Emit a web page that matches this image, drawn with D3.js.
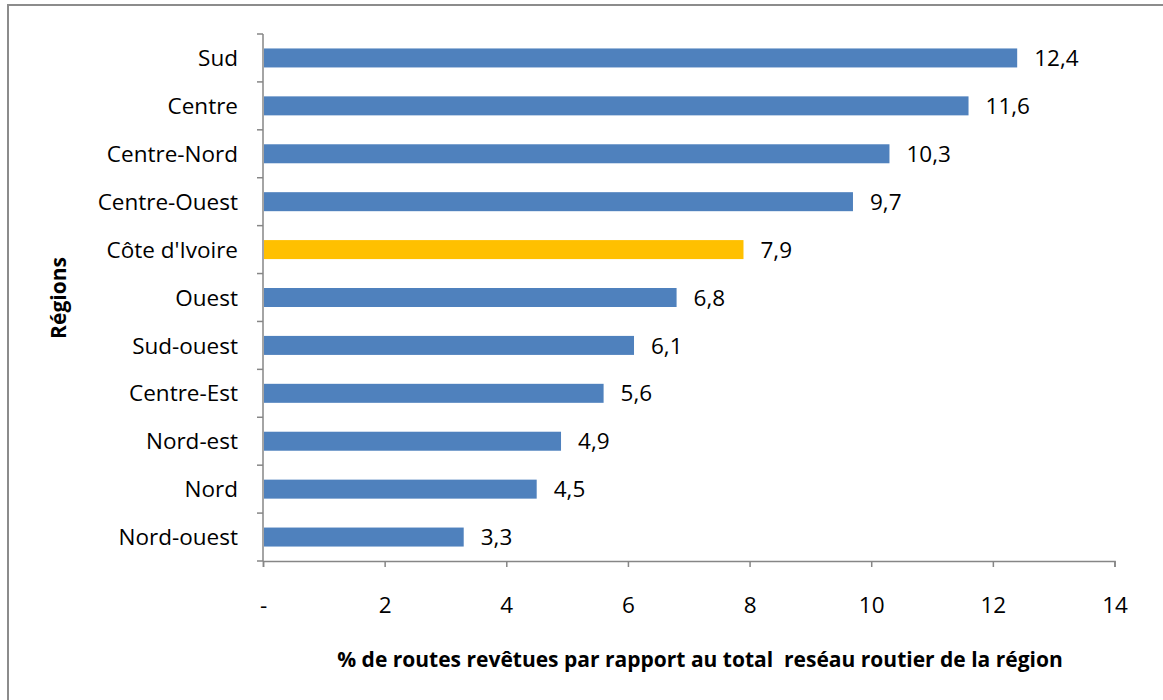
<!doctype html>
<html>
  <head>
    <script src="https://cdnjs.cloudflare.com/ajax/libs/d3/7.8.5/d3.min.js"></script>
    <style>
      body { margin: 0; background: #fff; }
      svg { display: block; font-family: "Open Sans", sans-serif; }
    </style>
  </head>
  <body>
    <svg width="1163" height="700"></svg>
    <script>
      // regions, top to bottom
      var regions = ["Sud", "Centre", "Centre-Nord", "Centre-Ouest", "Côte d'Ivoire", "Ouest",
                     "Sud-ouest", "Centre-Est", "Nord-est", "Nord", "Nord-ouest"];
      var values = [12.4, 11.6, 10.3, 9.7, 7.9, 6.8, 6.1, 5.6, 4.9, 4.5, 3.3];
      var xTicks = [0, 2, 4, 6, 8, 10, 12, 14];
      var highlight = "Côte d'Ivoire";

      var svg = d3.select("svg");
      var fs = 22.5;

      // outer frame (cut by the page on right and bottom)
      svg.append("rect")
        .attr("x", 8).attr("y", 5)
        .attr("width", 1170).attr("height", 720)
        .attr("fill", "none")
        .attr("stroke", "#8c8c8c")
        .attr("stroke-width", 2);

      var x = d3.scaleLinear().domain([0, 14]).range([263, 1114.5]);
      var band = d3.scaleBand().domain(regions).range([34, 561]);

      // bars
      svg.selectAll("rect.bar")
        .data(regions)
        .enter()
        .append("rect")
          .attr("class", "bar")
          .attr("x", x(0) + 1)
          .attr("y", d => band(d) + band.bandwidth() / 2 - 9.5)
          .attr("height", 19)
          .attr("width", (d, i) => x(values[i]) - x(0) - 1)
          .attr("fill", d => d === highlight ? "#FFC000" : "#4F81BD");

      // value labels
      svg.selectAll("text.val")
        .data(regions)
        .enter()
        .append("text")
          .attr("class", "val")
          .attr("x", (d, i) => x(values[i]) + 17)
          .attr("y", d => band(d) + band.bandwidth() / 2)
          .attr("dy", "0.36em")
          .attr("font-size", fs)
          .attr("fill", "#000")
          .text((d, i) => d3.format(".1f")(values[i]).replace(".", ","));

      // y axis: ticks between categories
      var yAxis = svg.append("g");
      yAxis.append("line")
        .attr("x1", x(0)).attr("x2", x(0))
        .attr("y1", band.range()[0]).attr("y2", band.range()[1])
        .attr("stroke", "#868686").attr("stroke-width", 1.5);
      var bounds = regions.map(d => band(d)).concat([band.range()[1]]);
      yAxis.selectAll("line.yt")
        .data(bounds)
        .enter()
        .append("line")
          .attr("class", "yt")
          .attr("x1", x(0) - 6).attr("x2", x(0))
          .attr("y1", d => d).attr("y2", d => d)
          .attr("stroke", "#868686").attr("stroke-width", 1.5);
      yAxis.selectAll("text")
        .data(regions)
        .enter()
        .append("text")
          .attr("x", 238)
          .attr("y", d => band(d) + band.bandwidth() / 2)
          .attr("dy", "0.36em")
          .attr("text-anchor", "end")
          .attr("font-size", fs)
          .text(d => d);

      // x axis
      var xAxis = svg.append("g")
        .attr("transform", "translate(0," + band.range()[1] + ")")
        .call(d3.axisBottom(x).tickValues(xTicks).tickSize(6).tickPadding(30)
          .tickFormat(d => d === 0 ? "-" : d));
      xAxis.select(".domain").attr("stroke", "#868686").attr("stroke-width", 1.5);
      xAxis.selectAll(".tick line").attr("stroke", "#868686").attr("stroke-width", 1.5);
      xAxis.selectAll("text")
        .attr("font-size", fs)
        .attr("font-family", "'Open Sans', sans-serif")
        .attr("fill", "#000");

      // titles
      svg.append("text")
        .attr("x", 700).attr("y", 667)
        .attr("text-anchor", "middle")
        .attr("font-size", 21)
        .attr("font-weight", "bold")
        .style("white-space", "pre")
        .text("% de routes revêtues par rapport au total  reséau routier de la région");

      svg.append("text")
        .attr("transform", "translate(66,298) rotate(-90)")
        .attr("text-anchor", "middle")
        .attr("font-size", 21)
        .attr("font-weight", "bold")
        .text("Régions");
    </script>
  </body>
</html>
